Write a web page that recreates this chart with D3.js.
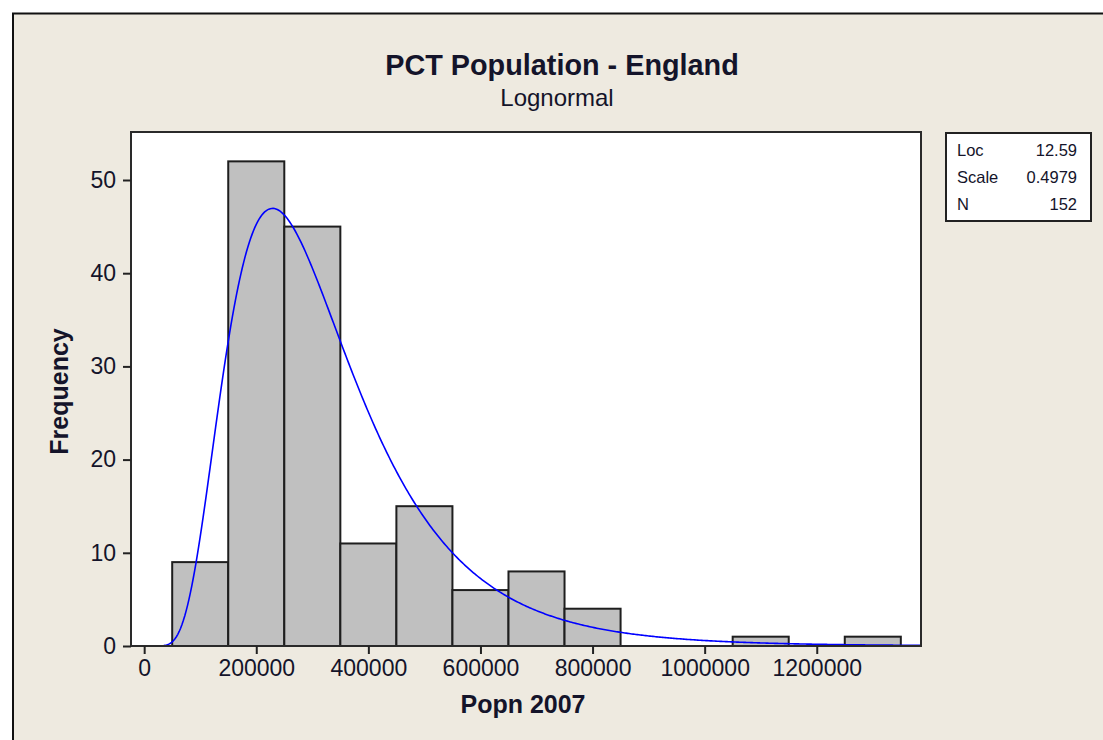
<!DOCTYPE html>
<html>
<head>
<meta charset="utf-8">
<script src="https://cdn.jsdelivr.net/npm/d3@7"></script>
<style>
  html, body { margin: 0; padding: 0; background: #ffffff; }
  svg { display: block; }
  text { font-family: "Liberation Sans", Arial, sans-serif; fill: #14142a; }
</style>
</head>
<body>
<svg id="chart" width="1103" height="740"></svg>
<script>
// Histogram bins (midpoints, width 100000) and their frequencies
const binMids = [100000, 200000, 300000, 400000, 500000, 600000, 700000,
                 800000, 900000, 1000000, 1100000, 1200000, 1300000];
const counts  = [9, 52, 45, 11, 15, 6, 8, 4, 0, 0, 1, 0, 1];
const binWidth = 100000;

// Fitted lognormal parameters shown in the legend
const locParam = 12.59;
const scaleParam = 0.4979;
const nObs = 152;

// Axis ticks
const xTicks = [0, 200000, 400000, 600000, 800000, 1000000, 1200000];
const yTicks = [0, 10, 20, 30, 40, 50];

const titleText = "PCT Population - England";
const subtitleText = "Lognormal";
const xLabel = "Popn 2007";
const yLabel = "Frequency";
const legendRows = [["Loc", "12.59"], ["Scale", "0.4979"], ["N", "152"]];

const svg = d3.select("#chart");

// Beige graph window with dark frame on the top and left edges
svg.append("rect").attr("x", 13).attr("y", 14).attr("width", 1090).attr("height", 726)
  .attr("fill", "#eeeae0");
svg.append("path").attr("d", "M13,740 L13,13.5 L1103,13.5")
  .attr("fill", "none").attr("stroke", "#111").attr("stroke-width", 2);

const plot = { left: 131, right: 921, top: 132, bottom: 646 };

const x = d3.scaleLinear().domain([-23500, 1386000]).range([plot.left, plot.right]);
const y = d3.scaleLinear().domain([0, 55.15]).range([plot.bottom, plot.top]);

// Plot area
svg.append("rect")
  .attr("x", plot.left).attr("y", plot.top)
  .attr("width", plot.right - plot.left).attr("height", plot.bottom - plot.top)
  .attr("fill", "#ffffff");

// Bars
svg.append("g").selectAll("rect")
  .data(binMids.map((m, i) => ({ m, c: counts[i] })).filter(d => d.c > 0))
  .join("rect")
  .attr("x", d => x(d.m - binWidth / 2))
  .attr("y", d => y(d.c))
  .attr("width", d => x(d.m + binWidth / 2) - x(d.m - binWidth / 2))
  .attr("height", d => y(0) - y(d.c))
  .attr("fill", "#c0c0c0")
  .attr("stroke", "#1e1e1e")
  .attr("stroke-width", 2);

// Fitted lognormal density scaled to counts
const scaleFactor = nObs * binWidth;
function lognormPdf(v) {
  if (v <= 0) return 0;
  const z = (Math.log(v) - locParam) / scaleParam;
  return Math.exp(-0.5 * z * z) / (v * scaleParam * Math.sqrt(2 * Math.PI));
}
const xs = d3.range(0, x.domain()[1], 2500);
const curve = d3.line()
  .x(v => x(v))
  .y(v => y(lognormPdf(v) * scaleFactor));
svg.append("path")
  .datum(xs)
  .attr("d", curve)
  .attr("fill", "none")
  .attr("stroke", "#0000ff")
  .attr("stroke-width", 1.6);

// Plot border
svg.append("rect")
  .attr("x", plot.left).attr("y", plot.top)
  .attr("width", plot.right - plot.left).attr("height", plot.bottom - plot.top)
  .attr("fill", "none").attr("stroke", "#2a2a2a").attr("stroke-width", 2);

// Axes
const xAxis = svg.append("g")
  .attr("transform", `translate(0,${plot.bottom})`)
  .call(d3.axisBottom(x).tickValues(xTicks).tickFormat(d3.format("d"))
        .tickSizeOuter(0).tickSizeInner(8).tickPadding(5));
xAxis.select(".domain").remove();
xAxis.selectAll("line").attr("stroke", "#222").attr("stroke-width", 2);
xAxis.selectAll("text").attr("font-size", 23).attr("font-family", "Liberation Sans, Arial, sans-serif")
  .attr("fill", "#14142a").attr("dy", "0.76em");

const yAxis = svg.append("g")
  .attr("transform", `translate(${plot.left},0)`)
  .call(d3.axisLeft(y).tickValues(yTicks).tickFormat(d3.format("d"))
        .tickSizeOuter(0).tickSizeInner(8).tickPadding(7));
yAxis.select(".domain").remove();
yAxis.selectAll("line").attr("stroke", "#222").attr("stroke-width", 2);
yAxis.selectAll("text").attr("font-size", 23).attr("font-family", "Liberation Sans, Arial, sans-serif")
  .attr("fill", "#14142a");

// Titles
svg.append("text").attr("x", 562).attr("y", 75).attr("text-anchor", "middle")
  .attr("font-size", 28.8).attr("font-weight", "bold").attr("fill", "#0a0a1a")
  .text(titleText);
svg.append("text").attr("x", 557).attr("y", 106).attr("text-anchor", "middle")
  .attr("font-size", 24).text(subtitleText);
svg.append("text").attr("x", 523).attr("y", 713).attr("text-anchor", "middle")
  .attr("font-size", 25).attr("font-weight", "bold").attr("fill", "#0a0a1a")
  .text(xLabel);
svg.append("text").attr("transform", "translate(67.5,391.5) rotate(-90)")
  .attr("text-anchor", "middle")
  .attr("font-size", 25).attr("font-weight", "bold").attr("fill", "#0a0a1a")
  .text(yLabel);

// Legend box with fit parameters
const legend = svg.append("g");
legend.append("rect").attr("x", 946).attr("y", 133).attr("width", 145).attr("height", 88)
  .attr("fill", "#ffffff").attr("stroke", "#222").attr("stroke-width", 2);
legendRows.forEach((r, i) => {
  const by = 156 + i * 27;
  legend.append("text").attr("x", 957).attr("y", by).attr("font-size", 16.5).text(r[0]);
  legend.append("text").attr("x", 1077).attr("y", by).attr("font-size", 16.5)
    .attr("text-anchor", "end").text(r[1]);
});
</script>
</body>
</html>
